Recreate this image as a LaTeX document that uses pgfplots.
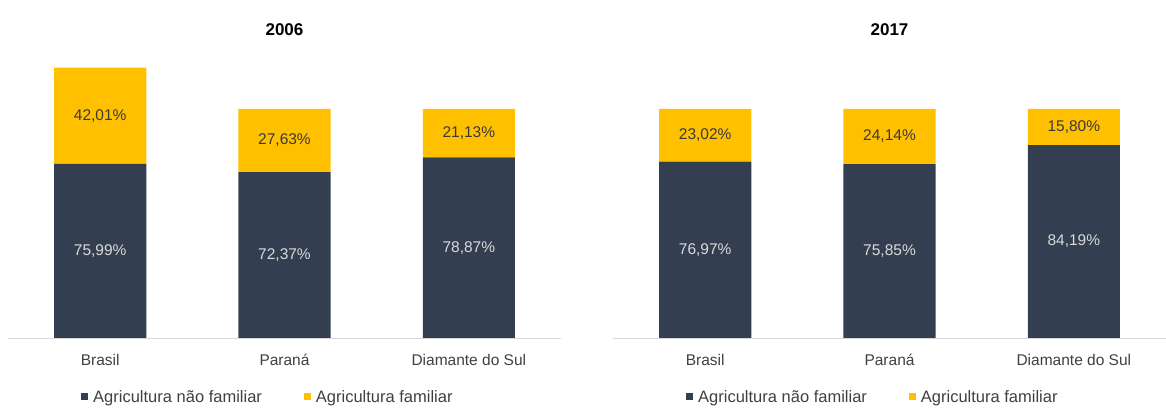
\documentclass[border=0pt]{standalone}
\usepackage{pgfplots}
\pgfplotsset{compat=1.18}
\usepackage{pgfplotstable}
\usepackage{fontspec}
\setmainfont{Liberation Sans}
\definecolor{navy}{HTML}{333F50}
\definecolor{gold}{HTML}{FFC000}
\definecolor{tickgray}{HTML}{404040}
\definecolor{lightlbl}{HTML}{D9D9D9}
\definecolor{darklbl}{HTML}{3A3A3A}

\pgfplotstableread{
x naofam fam
0 75.99 42.01
1 72.37 27.63
2 78.87 21.13
}\dataA
\pgfplotstableread{
x naofam fam
0 76.97 23.02
1 75.85 24.14
2 84.19 15.80
}\dataB
\pgfplotstableread{
x yd ld yf lf
0 37.995 75,99 96.995 42,01
1 36.185 72,37 86.185 27,63
2 39.435 78,87 89.435 21,13
}\lblA
\pgfplotstableread{
x yd ld yf lf
0 38.485 76,97 88.48 23,02
1 37.925 75,85 87.92 24,14
2 42.095 84,19 92.09 15,80
}\lblB

\pgfplotsset{
  frame/.style={
    scale only axis, width=553pt, height=275pt,
    xmin=-0.5, xmax=2.5, ymin=0, ymax=120,
  },
  panel/.style={
    frame,
    ybar stacked, bar width=0.5,
    axis y line=none, axis x line*=bottom,
    x axis line style={draw=black!15, line width=0.8pt, -},
    ytick=\empty,
    xtick={0,1,2}, xticklabels={Brasil, Paraná, Diamante do Sul},
    xtick style={draw=none},
    xticklabel style={font=\fontsize{15.5}{18}\selectfont, text=tickgray, anchor=base, yshift=-28pt},
    title style={at={(0.5,1.1)}, anchor=center, font=\fontsize{17}{20}\selectfont\bfseries},
    legend style={at={(0.47,-0.2145)}, anchor=center, draw=none, fill=none,
      legend columns=2, font=\fontsize{16.5}{19}\selectfont, text=tickgray,
      /tikz/every odd column/.append style={column sep=3pt},
      /tikz/every even column/.append style={column sep=40pt},
      inner sep=0pt},
    legend image code/.code={\fill[##1] (0pt,-3.5pt) rectangle (7pt,3.5pt);},
  },
  lbls/.style={frame, hide axis},
  dl/.style={draw=none, mark=none, nodes near coords, point meta=explicit symbolic,
    nodes near coords={\pgfplotspointmeta\%},
    nodes near coords style={anchor=center, font=\fontsize{15.5}{18}\selectfont, text=lightlbl}},
  fl/.style={draw=none, mark=none, nodes near coords, point meta=explicit symbolic,
    nodes near coords={\pgfplotspointmeta\%},
    nodes near coords style={anchor=center, font=\fontsize{15.5}{18}\selectfont, text=darklbl}},
}

\begin{document}
\begin{tikzpicture}
\path[use as bounding box] (0,0) rectangle (1166pt,409pt);

\begin{axis}[panel, at={(8pt,71pt)}, anchor=south west, title={2006}]
\addplot[fill=navy, draw=none] table[x=x, y=naofam] {\dataA};
\addlegendentry{Agricultura não familiar}
\addplot[fill=gold, draw=none] table[x=x, y=fam] {\dataA};
\addlegendentry{Agricultura familiar}
\end{axis}
\begin{axis}[lbls, at={(8pt,71pt)}, anchor=south west]
\addplot[dl] table[x=x, y=yd, meta=ld] {\lblA};
\addplot[fl] table[x=x, y=yf, meta=lf] {\lblA};
\end{axis}

\begin{axis}[panel, at={(613pt,71pt)}, anchor=south west, title={2017}]
\addplot[fill=navy, draw=none] table[x=x, y=naofam] {\dataB};
\addlegendentry{Agricultura não familiar}
\addplot[fill=gold, draw=none] table[x=x, y=fam] {\dataB};
\addlegendentry{Agricultura familiar}
\end{axis}
\begin{axis}[lbls, at={(613pt,71pt)}, anchor=south west]
\addplot[dl] table[x=x, y=yd, meta=ld] {\lblB};
\addplot[fl] table[x=x, y=yf, meta=lf] {\lblB};
\end{axis}
\end{tikzpicture}
\end{document}
